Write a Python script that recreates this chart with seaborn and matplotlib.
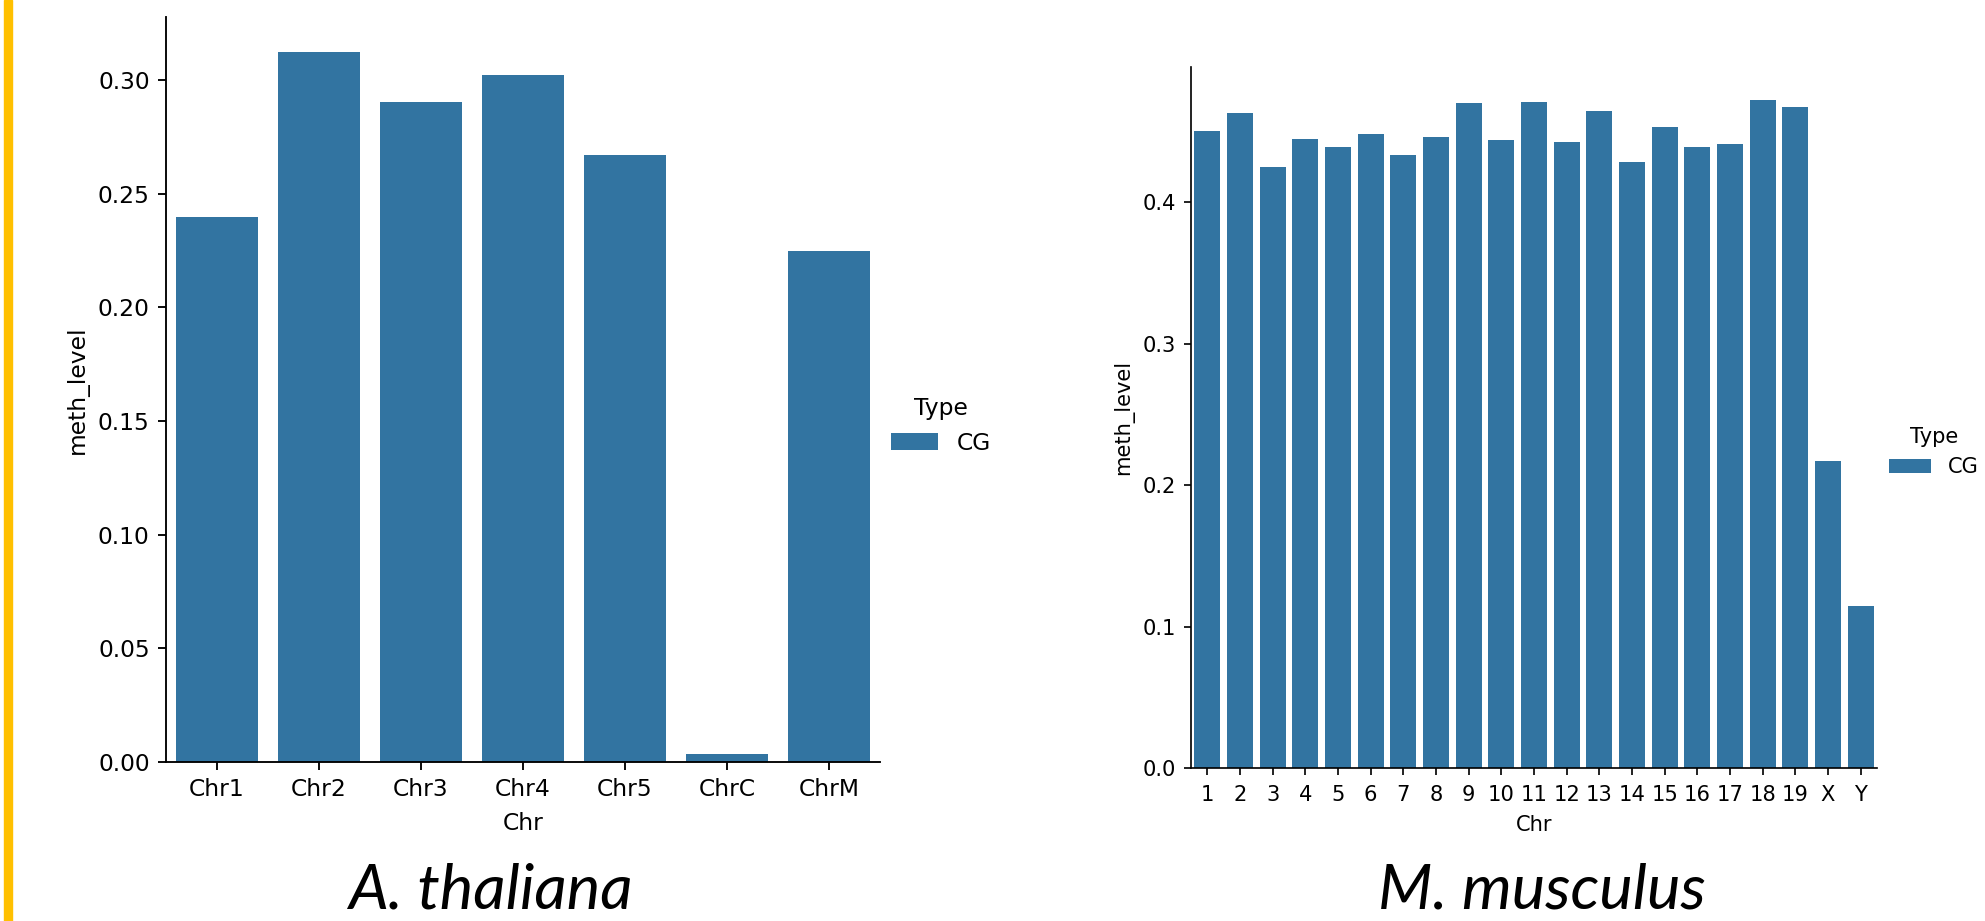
import matplotlib
matplotlib.use("Agg")
import matplotlib.pyplot as plt
import seaborn as sns
import pandas as pd
from matplotlib.patches import Rectangle

# ---- data ----
at_chr = ["Chr1", "Chr2", "Chr3", "Chr4", "Chr5", "ChrC", "ChrM"]
at_meth = [0.2400, 0.3122, 0.2903, 0.3025, 0.2673, 0.0035, 0.2248]

mm_chr = ["1", "2", "3", "4", "5", "6", "7", "8", "9", "10", "11", "12", "13",
          "14", "15", "16", "17", "18", "19", "X", "Y"]
mm_meth = [0.4501, 0.4628, 0.4250, 0.4444, 0.4388, 0.4480, 0.4331, 0.4459, 0.4699,
           0.4437, 0.4710, 0.4423, 0.4643, 0.4285, 0.4529, 0.4388, 0.4409, 0.4720,
           0.4671, 0.2173, 0.1142]

type_label = "CG"
captions = ["A. thaliana", "M. musculus"]

plt.rcParams['font.family'] = ['DejaVu Sans']

W, H = 1985, 921
fig = plt.figure(figsize=(W / 100, H / 100), dpi=100)


def fx(px):
    return px / W


def fy(py):
    return 1 - py / H


def panel(chrs, vals, rect, fs, scale, leg_anchor, xpad):
    df = pd.DataFrame({"Chr": chrs, "meth_level": vals, "Type": [type_label] * len(chrs)})
    ax = fig.add_axes(rect)
    sns.barplot(data=df, x="Chr", y="meth_level", hue="Type", ax=ax,
                palette=["#1f77b4"], saturation=0.75)
    sns.despine(ax=ax)
    ax.tick_params(labelsize=fs, length=3.5 * scale, width=0.8 * scale, pad=3.5 * scale)
    ax.tick_params(axis="x", pad=xpad)
    for s in ax.spines.values():
        s.set_linewidth(0.8 * scale)
    ax.set_xlabel("Chr", fontsize=fs, labelpad=4 * scale + 1)
    ax.set_ylabel("meth_level", fontsize=fs, labelpad=4 * scale)
    sns.move_legend(ax, loc="upper left", bbox_to_anchor=leg_anchor,
                    bbox_transform=fig.transFigure, frameon=False,
                    fontsize=fs, title_fontsize=fs, title="Type")
    return ax


# left panel: axes x 166..880, y 17..762
ax1 = panel(at_chr, at_meth,
            [fx(166), fy(762), fx(880 - 166), (762 - 17) / H],
            16.8, 1.68, (fx(870), fy(376)), 3.5 * 1.68)
# right panel: axes x 1191..1877, y 67..768
ax2 = panel(mm_chr, mm_meth,
            [fx(1191), fy(768), fx(1877 - 1191), (768 - 67) / H],
            15.1, 1.51, (fx(1870), fy(408)), 3.5 * 1.51 + 2)
ax2.set_yticks([0.0, 0.1, 0.2, 0.3, 0.4])

# captions
fig.text(fx(490), fy(908), captions[0], ha="center", va="baseline",
         fontsize=45.5, style="italic", family=["Lato", "DejaVu Sans"])
fig.text(fx(1542), fy(908), captions[1], ha="center", va="baseline",
         fontsize=45.5, style="italic", family=["Lato", "DejaVu Sans"])

# orange bar at left edge
fig.patches.append(Rectangle((fx(4), 0), fx(8), 1, transform=fig.transFigure,
                             color="#FFC000", zorder=10))

fig.savefig("out.png", dpi=100)
